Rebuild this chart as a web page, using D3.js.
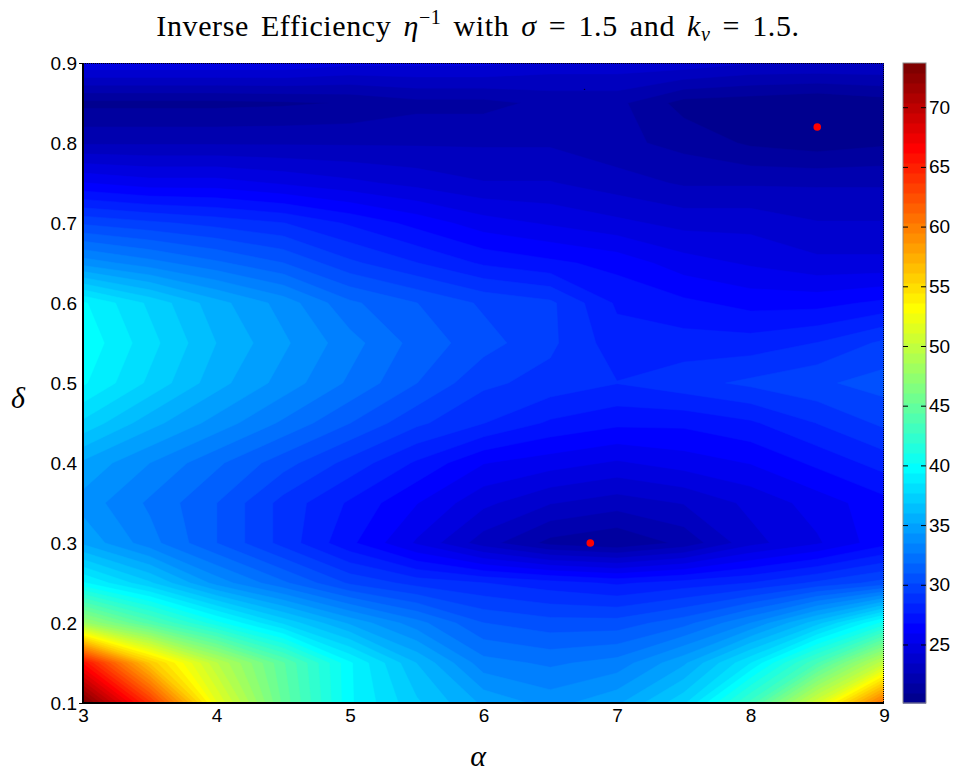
<!DOCTYPE html>
<html>
<head>
<meta charset="utf-8">
<script src="https://cdn.jsdelivr.net/npm/d3@7"></script>
<style>
  body { margin: 0; background: #fff; }
  svg { display: block; }
  .tick text { font-family: "Liberation Sans", Arial, sans-serif; font-size: 19px; fill: #000; }
</style>
</head>
<body>
<svg id="chart"></svg>
<script>
const width = 956;
const height = 774;

// grid of the surface: alpha across, delta up
const alphaVals = [3, 3.5, 4, 4.5, 5, 5.5, 6, 6.5, 7, 7.5, 8, 8.5, 9];
const deltaVals = [0.1, 0.15, 0.2, 0.25, 0.3, 0.35, 0.4, 0.45, 0.5, 0.55, 0.6, 0.65, 0.7, 0.75, 0.8, 0.85, 0.9];

// inverse efficiency, one row per delta (bottom row first)
const etaInv = [
  [73.7, 64, 52, 45, 39.5, 37, 35, 34, 35, 37.5, 43, 51, 61],
  [66, 56, 49.5, 44.5, 39.5, 36, 33, 32.5, 33, 35, 38.5, 43.5, 50],
  [48, 44, 40.5, 37.5, 35, 33, 31, 30.5, 30.5, 31.5, 33.5, 36.5, 40.5],
  [39.5, 37, 34, 32, 30, 29, 28.5, 28, 27.5, 28, 28.5, 29.5, 30.5],
  [35, 33, 31, 29, 27, 25, 23, 21.5, 21, 22, 24, 25, 26.5],
  [34, 32.5, 31, 29, 27.5, 26, 24.5, 23.5, 23, 23.5, 24.5, 25.5, 26.5],
  [35, 33.5, 32, 30.5, 29, 27.5, 26, 25.5, 25, 25.5, 26, 27, 28],
  [37.5, 35.5, 34, 32.5, 31, 29.5, 28.5, 27.5, 27, 27, 27.5, 28.5, 29.5],
  [39.5, 37.5, 35.5, 34, 32.5, 31, 29.5, 29, 28.5, 29, 29.5, 30, 30.5],
  [40, 38, 36, 34.5, 33, 31.5, 30.5, 29.5, 28, 28, 28, 28.5, 29.5],
  [39.5, 37.5, 35.5, 34, 32, 31, 30, 29.5, 27.5, 27, 26.5, 26.5, 27],
  [34, 33, 32, 31, 29.5, 28.5, 27.5, 27, 26.5, 25.5, 25, 24.5, 24.5],
  [30, 29.5, 29, 28.5, 27.5, 26.5, 25.5, 25, 24.5, 24, 24, 23.5, 23.5],
  [26, 25.5, 25.5, 25, 24.5, 24, 23.5, 23.5, 23, 22.5, 22.5, 22.5, 22.5],
  [22.5, 22.5, 22.5, 22.5, 22.5, 22.5, 22.5, 22.5, 22, 21.5, 20.8, 20.5, 20.8],
  [20.7, 20.7, 20.7, 20.8, 21, 21.5, 21.5, 22, 22, 20.6, 20.4, 20.1, 20.5],
  [25, 25, 25, 25, 24.5, 24.5, 24.5, 24, 24, 24, 23.5, 23.5, 23.5]
];

// red markers
const minAlpha = [6.8, 8.5];
const minDelta = [0.3, 0.82];

const xTicks = [3, 4, 5, 6, 7, 8, 9];
const yTicks = [0.1, 0.2, 0.3, 0.4, 0.5, 0.6, 0.7, 0.8, 0.9];
const cbTicks = [25, 30, 35, 40, 45, 50, 55, 60, 65, 70];

const plot = {left: 83, right: 884, top: 63, bottom: 703};
const cb = {left: 903, right: 926};

// matlab jet(64)
function jet(m) {
  const n = Math.ceil(m / 4);
  const u = [];
  for (let i = 1; i <= n; i++) u.push(i / n);
  for (let i = 1; i < n; i++) u.push(1);
  for (let i = n; i >= 1; i--) u.push(i / n);
  const g0 = Math.ceil(n / 2) - (m % 4 === 1 ? 1 : 0);
  const J = d3.range(m).map(() => [0, 0, 0]);
  u.forEach((v, i) => {
    const g = g0 + i + 1, r = g + n, b = g - n;
    if (g >= 1 && g <= m) J[g - 1][1] = v;
    if (r >= 1 && r <= m) J[r - 1][0] = v;
    if (b >= 1 && b <= m) J[b - 1][2] = v;
  });
  return J.map(c => d3.rgb(c[0] * 255, c[1] * 255, c[2] * 255).toString());
}
const colors = jet(64);

const svg = d3.select('#chart').attr('width', width).attr('height', height);

const x = d3.scaleLinear().domain([3, 9]).range([plot.left, plot.right]);
const y = d3.scaleLinear().domain([0.1, 0.9]).range([plot.bottom, plot.top]);

const flat = etaInv.flat();
const extent = d3.extent(flat);
const step = (extent[1] - extent[0]) / 64;
const thresholds = d3.range(64).map(k => extent[0] + k * step);

const nx = alphaVals.length, ny = deltaVals.length;
const dA = alphaVals[1] - alphaVals[0];
const dD = deltaVals[1] - deltaVals[0];

const contours = d3.contours().size([nx, ny]).thresholds(thresholds)(flat);

const proj = d3.geoTransform({
  point: function(cx, cy) {
    this.stream.point(x(alphaVals[0] + (cx - 0.5) * dA), y(deltaVals[0] + (cy - 0.5) * dD));
  }
});
const path = d3.geoPath(proj);

svg.append('clipPath').attr('id', 'plot-clip')
  .append('rect')
  .attr('x', plot.left).attr('y', plot.top)
  .attr('width', plot.right - plot.left).attr('height', plot.bottom - plot.top);

svg.append('g').attr('clip-path', 'url(#plot-clip)')
  .selectAll('path')
  .data(contours)
  .enter()
  .append('path')
  .attr('d', path)
  .attr('fill', (d, i) => colors[i])
  .attr('stroke', (d, i) => colors[i])
  .attr('stroke-width', 0.5);

// minima
svg.selectAll('circle.min')
  .data(minAlpha)
  .enter()
  .append('circle')
  .attr('class', 'min')
  .attr('cx', d => x(d))
  .attr('cy', (d, i) => y(minDelta[i]))
  .attr('r', 3.8)
  .attr('fill', '#ff0000');

// box: dotted top / right
svg.append('path')
  .attr('d', `M${plot.left},${plot.top + 0.5}H${plot.right - 0.5}V${plot.bottom}`)
  .attr('fill', 'none')
  .attr('stroke', '#000')
  .attr('stroke-dasharray', '1,1');

const xAxis = svg.append('g').attr('transform', `translate(0, ${plot.bottom})`)
  .call(d3.axisBottom(x).tickValues(xTicks).tickSize(0).tickPadding(6).tickFormat(d3.format('d')));
const yAxis = svg.append('g').attr('transform', `translate(${plot.left}, 0)`)
  .call(d3.axisLeft(y).tickValues(yTicks).tickSize(5).tickPadding(1).tickFormat(d3.format('.1f')));
xAxis.select('.domain').attr('stroke', '#000').attr('stroke-width', 2).attr('d', `M${plot.left - 1},0H${plot.right}`);
yAxis.select('.domain').attr('stroke', '#000').attr('stroke-width', 2).attr('d', `M0,${plot.top}V${plot.bottom + 1}`);
yAxis.selectAll('.tick line').attr('x2', 0).attr('x1', -4);
yAxis.selectAll('.tick').filter(d => d !== 0.1 && d !== 0.9).select('line').remove();

// colorbar
const yc = d3.scaleLinear().domain(extent).range([plot.bottom, plot.top]);
svg.append('g')
  .selectAll('rect')
  .data(thresholds)
  .enter()
  .append('rect')
  .attr('x', cb.left)
  .attr('width', cb.right - cb.left)
  .attr('y', d => yc(d + step))
  .attr('height', d => yc(d) - yc(d + step) + 0.5)
  .attr('fill', (d, i) => colors[i]);

svg.append('rect')
  .attr('x', cb.left).attr('y', plot.top)
  .attr('width', cb.right - cb.left).attr('height', plot.bottom - plot.top)
  .attr('fill', 'none').attr('stroke', '#8c8c8c').attr('stroke-width', 1);

const cbAxis = svg.append('g').attr('transform', `translate(${cb.right}, 0)`)
  .call(d3.axisRight(yc).tickValues(cbTicks).tickSize(0).tickPadding(3));
cbAxis.select('.domain').remove();
cbAxis.selectAll('.tick').each(function() {
  const t = d3.select(this);
  t.append('line').attr('x1', -5).attr('x2', 0).attr('stroke', '#000');
  t.append('line').attr('x1', -(cb.right - cb.left)).attr('x2', -(cb.right - cb.left) + 5).attr('stroke', '#000');
});

// title and labels
const title = svg.append('text')
  .attr('x', 478).attr('y', 36)
  .attr('text-anchor', 'middle')
  .style('font-family', '"Liberation Serif", "DejaVu Serif", serif')
  .style('font-size', '30px')
  .style('letter-spacing', '0.6px')
  .style('word-spacing', '4px');
title.append('tspan').text('Inverse Efficiency ');
title.append('tspan').style('font-style', 'italic').text('η');
title.append('tspan').attr('dy', -12).style('font-size', '20px').text('−1');
title.append('tspan').attr('dy', 12).text(' with ');
title.append('tspan').style('font-style', 'italic').text('σ');
title.append('tspan').text(' = 1.5 and ');
title.append('tspan').style('font-style', 'italic').text('k');
title.append('tspan').attr('dy', 5).style('font-size', '20px').style('font-style', 'italic').text('v');
title.append('tspan').attr('dy', -5).text(' = 1.5.');

svg.append('text')
  .attr('x', 585).attr('y', 90)
  .attr('text-anchor', 'middle')
  .style('font-family', '"Liberation Sans", sans-serif')
  .style('font-size', '10px')
  .text('.');

svg.append('text')
  .attr('x', 18).attr('y', 408)
  .attr('text-anchor', 'middle')
  .style('font-family', '"Liberation Serif", serif')
  .style('font-style', 'italic')
  .style('font-size', '30px')
  .text('δ');

svg.append('text')
  .attr('x', 478).attr('y', 766)
  .attr('text-anchor', 'middle')
  .style('font-family', '"Liberation Serif", serif')
  .style('font-style', 'italic')
  .style('font-size', '30px')
  .text('α');
</script>
</body>
</html>
